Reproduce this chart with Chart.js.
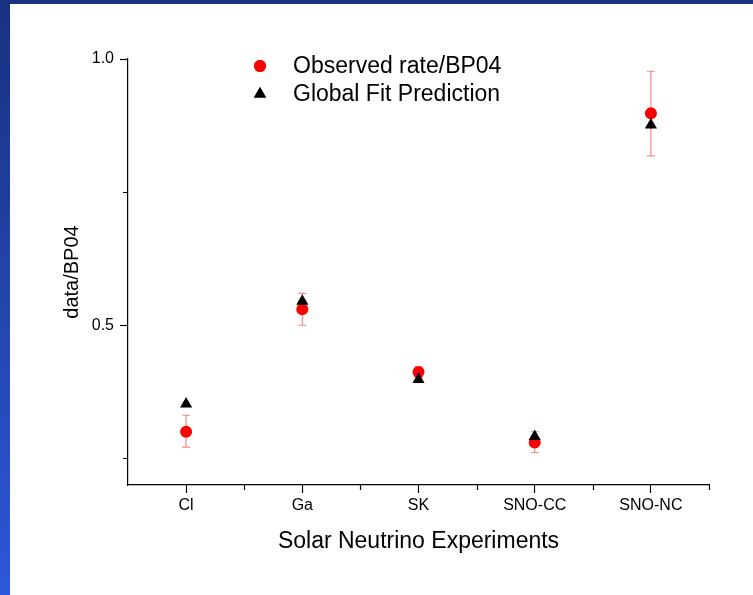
<!DOCTYPE html>
<html>
<head>
<meta charset="utf-8">
<script src="https://cdn.jsdelivr.net/npm/chart.js@4.4.1/dist/chart.umd.min.js"></script>
<style>
  html, body { margin: 0; padding: 0; }
  body {
    width: 753px; height: 595px; overflow: hidden;
    background: linear-gradient(to bottom, #18327f 0%, #2d57da 100%);
  }
  #panel { position: absolute; left: 10px; top: 4px; width: 743px; height: 591px; background: #fff; }
</style>
</head>
<body>
<div id="panel"><canvas id="chart" width="743" height="591"></canvas></div>
<script>
// experiments along the x axis
const categories = ["Cl", "Ga", "SK", "SNO-CC", "SNO-NC"];
// observed rate / BP04 with error bar ends
const observed = [0.300, 0.530, 0.412, 0.280, 0.898];
const observedLow = [0.271, 0.500, 0.402, 0.261, 0.818];
const observedHigh = [0.331, 0.560, 0.422, 0.300, 0.977];
// global fit prediction
const fitPrediction = [0.352, 0.545, 0.398, 0.291, 0.876];
// y axis ticks
const yLabelTicks = [0.5, 1.0];
const yMinorTicks = [0.25, 0.75];

const FONT = "'Liberation Sans', Arial, sans-serif";
Chart.defaults.font.family = FONT;
Chart.defaults.color = "#000";

const xTickValues = [-0.5];
categories.forEach((c, i) => { xTickValues.push(i, i + 0.5); });
const xMinorTicks = categories.map((c, i) => i + 0.5);

const errorBars = {
  id: "errorBars",
  beforeDatasetsDraw(chart) {
    const { ctx, scales: { x, y } } = chart;
    ctx.save();
    ctx.strokeStyle = "#f28a8a";
    ctx.lineWidth = 1.2;
    observed.forEach((v, i) => {
      const px = x.getPixelForValue(i);
      const lo = y.getPixelForValue(observedLow[i]);
      const hi = y.getPixelForValue(observedHigh[i]);
      ctx.beginPath();
      ctx.moveTo(px, lo); ctx.lineTo(px, hi);
      ctx.moveTo(px - 4, lo); ctx.lineTo(px + 4, lo);
      ctx.moveTo(px - 4, hi); ctx.lineTo(px + 4, hi);
      ctx.stroke();
    });
    ctx.restore();
  }
};

// shorter ticks between the labelled ones
const minorTicks = {
  id: "minorTicks",
  afterDraw(chart) {
    const { ctx, chartArea, scales: { x, y } } = chart;
    ctx.save();
    ctx.strokeStyle = "#000";
    ctx.lineWidth = 1.2;
    ctx.beginPath();
    xMinorTicks.forEach(v => {
      const px = Math.round(x.getPixelForValue(v)) + 0.5;
      ctx.moveTo(px, chartArea.bottom); ctx.lineTo(px, chartArea.bottom + 5);
    });
    yMinorTicks.forEach(v => {
      const py = Math.round(y.getPixelForValue(v)) + 0.5;
      ctx.moveTo(chartArea.left, py); ctx.lineTo(chartArea.left - 5, py);
    });
    ctx.stroke();
    ctx.restore();
  }
};

const insideLegend = {
  id: "insideLegend",
  afterDraw(chart) {
    const { ctx } = chart;
    const rows = [
      { label: "Observed rate/BP04", style: "circle", color: "#ff0000", y: 62 },
      { label: "Global Fit Prediction", style: "triangle", color: "#000", y: 90 }
    ];
    ctx.save();
    ctx.font = "23px " + FONT;
    ctx.textBaseline = "middle";
    rows.forEach(r => {
      ctx.fillStyle = r.color;
      Chart.helpers.drawPoint(ctx, { pointStyle: r.style, radius: r.style === "circle" ? 6 : 7, rotation: 0, borderWidth: 0 }, 250, r.y);
      ctx.fill();
      ctx.fillStyle = "#000";
      ctx.fillText(r.label, 283, r.y + 1);
    });
    ctx.restore();
  }
};

new Chart(document.getElementById("chart"), {
  type: "scatter",
  data: {
    datasets: [
      {
        label: "Global Fit Prediction",
        data: fitPrediction.map((v, i) => ({ x: i, y: v })),
        pointStyle: "triangle",
        pointRadius: 7,
        backgroundColor: "#000",
        borderColor: "#000",
        borderWidth: 0,
        order: 1
      },
      {
        label: "Observed rate/BP04",
        data: observed.map((v, i) => ({ x: i, y: v })),
        pointStyle: "circle",
        pointRadius: 6,
        backgroundColor: "#ff0000",
        borderColor: "#ff0000",
        borderWidth: 0,
        order: 2
      }
    ]
  },
  options: {
    responsive: false,
    animation: false,
    layout: { padding: { top: 55, right: 44, left: 0, bottom: 0 } },
    plugins: { legend: { display: false }, tooltip: { enabled: false } },
    scales: {
      x: {
        type: "linear",
        min: -0.5,
        max: categories.length - 0.5,
        afterBuildTicks: scale => { scale.ticks = xTickValues.map(v => ({ value: v })); },
        afterFit: scale => { scale.height = 110; },
        ticks: {
          autoSkip: false,
          maxRotation: 0,
          padding: 3,
          font: { size: 16 },
          callback: v => Number.isInteger(v) ? categories[v] : ""
        },
        grid: {
          drawOnChartArea: false,
          tickLength: 8,
          tickWidth: 1.2,
          tickColor: c => Number.isInteger(c.tick.value) ? "#000" : "rgba(0,0,0,0)"
        },
        border: { display: true, color: "#000", width: 1.2 },
        title: {
          display: true,
          text: "Solar Neutrino Experiments",
          font: { size: 23 },
          padding: { top: 0, bottom: 40 }
        }
      },
      y: {
        min: 0.2,
        max: 1.0,
        afterBuildTicks: scale => { scale.ticks = yMinorTicks.concat(yLabelTicks).sort().map(v => ({ value: v })); },
        afterFit: scale => { scale.width = 118; },
        ticks: {
          padding: 6,
          font: { size: 16 },
          callback: v => yLabelTicks.includes(v) ? v.toFixed(1) : ""
        },
        grid: {
          drawOnChartArea: false,
          tickLength: 8,
          tickWidth: 1.2,
          tickColor: c => yLabelTicks.includes(c.tick.value) ? "#000" : "rgba(0,0,0,0)"
        },
        border: { display: true, color: "#000", width: 1.2 },
        title: {
          display: true,
          text: "data/BP04",
          font: { size: 20 },
          padding: { top: 50, bottom: 0 }
        }
      }
    }
  },
  plugins: [errorBars, minorTicks, insideLegend]
});
</script>
</body>
</html>
